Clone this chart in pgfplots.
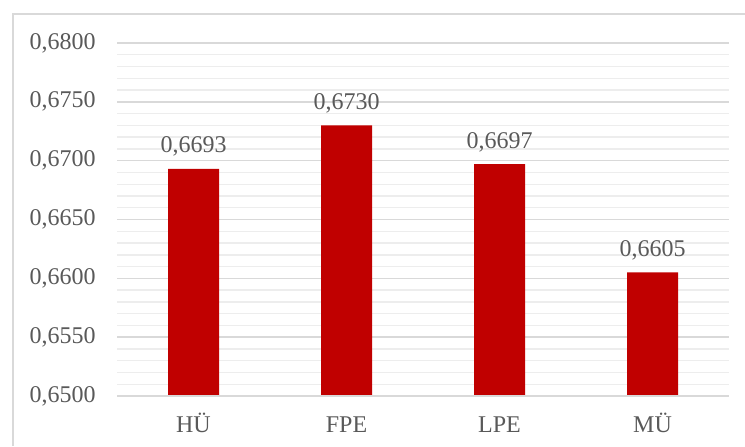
\documentclass[border=0pt]{standalone}
\usepackage{pgfplots}
\pgfplotsset{compat=1.18}
\usepackage{fontspec}
\setmainfont{Liberation Serif}
\definecolor{barred}{HTML}{C00000}
\definecolor{txtgray}{HTML}{595959}
\definecolor{majgrid}{HTML}{D9D9D9}
\definecolor{mingrid}{HTML}{EDEDED}
\definecolor{framegray}{HTML}{D9D9D9}
\begin{document}
\begin{tikzpicture}
\useasboundingbox (0,0) rectangle (372.5pt,223pt);
% chart frame (left and top edges)
\draw[framegray, line width=0.8pt] (6.5pt,0pt) -- (6.5pt,216pt) -- (372.5pt,216pt);
\begin{axis}[
  at={(58.5pt,25pt)}, anchor=south west,
  scale only axis,
  width=306pt, height=176.5pt,
  ybar, bar width=25.5pt,
  xmin=-0.5, xmax=3.5,
  ymin=0.65, ymax=0.68,
  xtick={0,1,2,3},
  xticklabels={HÜ,FPE,LPE,MÜ},
  ytick={0.65,0.655,0.66,0.665,0.67,0.675,0.68},
  minor y tick num=4,
  ymajorgrids, yminorgrids,
  major grid style={majgrid, line width=0.7pt},
  minor grid style={mingrid, line width=0.7pt},
  axis line style={draw=none},
  major tick length=0pt, minor tick length=0pt,
  tick style={draw=none},
  font=\fontsize{12}{14}\selectfont,
  tick label style={txtgray},
  /pgf/number format/assume math mode=true,
  /pgf/number format/.cd, fixed, fixed zerofill, precision=4, use comma,
  /pgfplots/.cd,
  yticklabel style={anchor=east, inner sep=0pt, xshift=-10.5pt},
  xticklabel style={anchor=base, inner sep=0pt, yshift=-18pt},
  scaled y ticks=false,
  nodes near coords,
  every node near coord/.append style={anchor=base, inner sep=0pt, yshift=8pt, txtgray,
    /pgf/number format/fixed, /pgf/number format/fixed zerofill,
    /pgf/number format/precision=4, /pgf/number format/use comma},
  clip=false,
]
\addplot[fill=barred, draw=none] coordinates {(0,0.6693) (1,0.6730) (2,0.6697) (3,0.6605)};
% baseline drawn over the bars' foot
\draw[majgrid, line width=0.7pt] (axis cs:-0.5,0.65) -- (axis cs:3.5,0.65);
\end{axis}
\end{tikzpicture}
\end{document}
